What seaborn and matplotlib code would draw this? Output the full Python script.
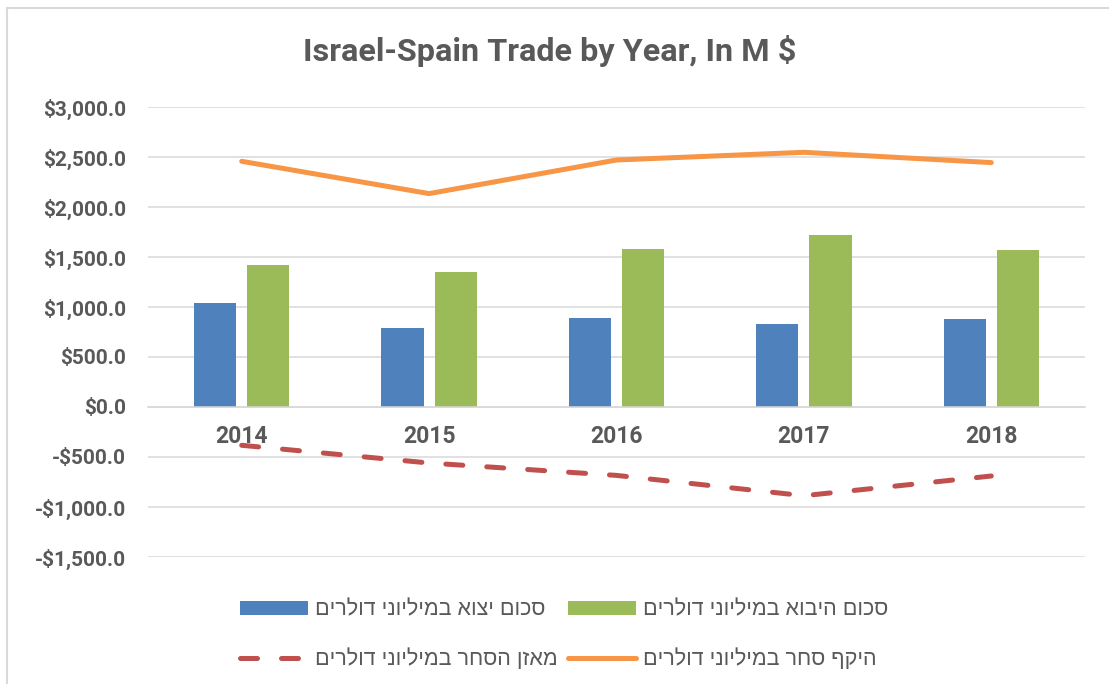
import numpy as np
import pandas as pd
import matplotlib
matplotlib.use("Agg")
import matplotlib.pyplot as plt
from matplotlib.lines import Line2D
from matplotlib.ticker import FuncFormatter
import seaborn as sns

# ---------------- data ----------------
years = ["2014", "2015", "2016", "2017", "2018"]
exports = [1037, 787, 893, 830, 877]
imports = [1420, 1347, 1577, 1717, 1567]
total_trade = [2457, 2134, 2470, 2547, 2444]
balance = [-383, -560, -684, -887, -690]

name_exports = "סכום יצוא במיליוני דולרים"
name_imports = "סכום היבוא במיליוני דולרים"
name_balance = "מאזן הסחר במיליוני דולרים"
name_total = "היקף סחר במיליוני דולרים"

title = "Israel-Spain Trade by Year, In M $"

# colours
c_blue = "#4F81BD"
c_green = "#9BBB59"
c_orange = "#F79646"
c_red = "#C0504D"
c_text = "#595959"
c_grid = "#D9D9D9"


def rtl(s):
    # matplotlib has no bidi support, so flip Hebrew for display
    return s[::-1]


sns.set_theme(style="white")
plt.rcParams["font.family"] = ["Roboto", "DejaVu Sans"]

bars = pd.DataFrame({
    "year": years * 2,
    "series": [rtl(name_exports)] * len(years) + [rtl(name_imports)] * len(years),
    "value": exports + imports,
})

W, H = 1109, 684
fig = plt.figure(figsize=(W / 100, H / 100), dpi=100)
ax = fig.add_axes([148 / W, 1 - 557 / H, (1085 - 148) / W, (557 - 107) / H])

sns.barplot(data=bars, x="year", y="value", hue="series",
            palette=[c_blue, c_green], saturation=1, width=0.568, gap=0.21,
            linewidth=0, ax=ax, legend=True)

pos = np.arange(len(years))
sns.lineplot(x=pos, y=total_trade, color=c_orange, linewidth=3.6,
             label=rtl(name_total), ax=ax, solid_capstyle="round")
sns.lineplot(x=pos, y=balance, color=c_red, linewidth=3.6,
             label=rtl(name_balance), ax=ax, linestyle=(0, (3.4, 4.8)),
             dash_capstyle="round")

ax.set_xlim(-0.5, len(years) - 0.5)
ax.set_ylim(-1500, 3000)
ax.set_yticks(np.arange(-1500, 3001, 500))
ax.yaxis.set_major_formatter(FuncFormatter(
    lambda v, p: ("-$" if v < 0 else "$") + f"{abs(v):,.1f}"))
ax.grid(axis="y", color=c_grid, linewidth=1.1)
ax.set_axisbelow(True)
for s in ["top", "right", "left"]:
    ax.spines[s].set_visible(False)
ax.spines["bottom"].set_position(("data", 0))
ax.spines["bottom"].set_color(c_grid)
ax.spines["bottom"].set_linewidth(1.1)
ax.set_xlabel("")
ax.set_ylabel("")
ax.tick_params(axis="y", length=0, pad=16, labelsize=15, labelcolor=c_text)
ax.tick_params(axis="x", length=0, pad=13, labelsize=16.5, labelcolor=c_text)
for lab in ax.get_xticklabels() + ax.get_yticklabels():
    lab.set_fontweight("bold")

# legend: blue / red in first column, green / orange in second
handles, labels = ax.get_legend_handles_labels()
lut = dict(zip(labels, handles))
order = [rtl(name_exports), rtl(name_balance), rtl(name_imports), rtl(name_total)]
ax.get_legend().remove()
fig.legend([lut[k] for k in order], order, ncol=2, loc="center",
           bbox_to_anchor=(564 / W, 1 - 635 / H), frameon=False,
           prop={"family": ["Liberation Sans", "DejaVu Sans"], "size": 15.5},
           labelcolor=c_text, handlelength=3.15, handleheight=0.6,
           handletextpad=0.33, columnspacing=0.5, labelspacing=1.3)

fig.text(550 / W, 1 - 51 / H, title, ha="center", va="center",
         fontsize=23.3, fontweight="bold", color=c_text)

# chart-area border (only top and left show in the crop)
fig.add_artist(Line2D([7 / W, 1], [1 - 8 / H, 1 - 8 / H], color=c_grid, lw=1.5))
fig.add_artist(Line2D([7 / W, 7 / W], [0, 1 - 8 / H], color=c_grid, lw=1.5))

fig.savefig("out.png", dpi=100)
